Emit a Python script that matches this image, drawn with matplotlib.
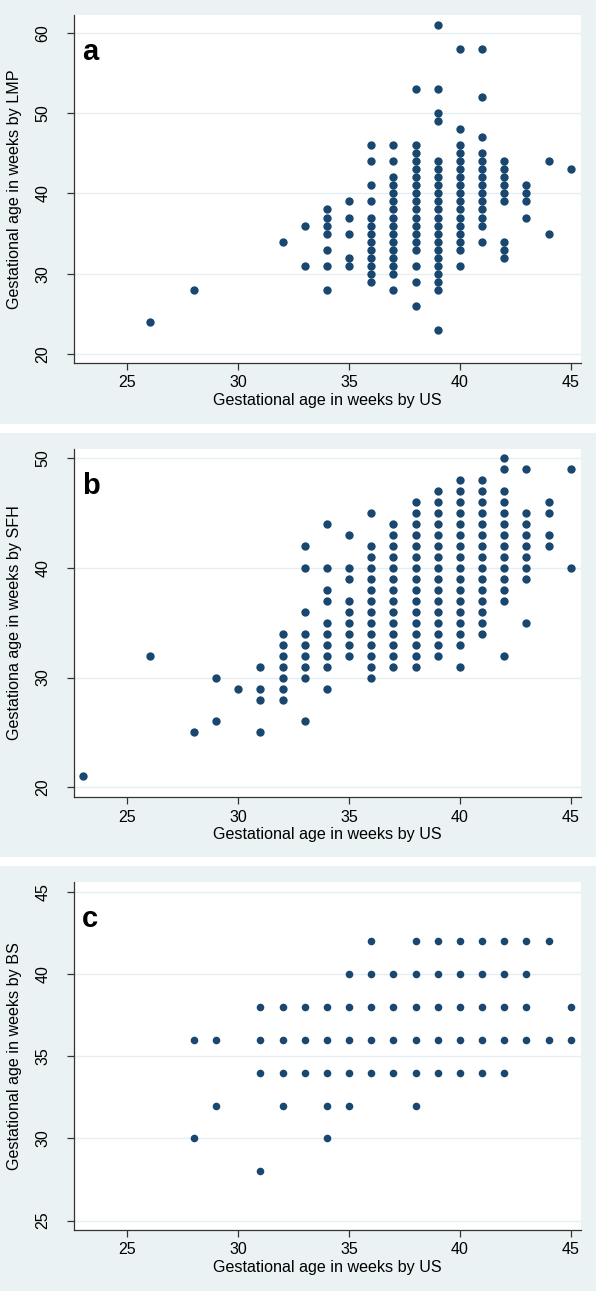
import numpy as np
import matplotlib
matplotlib.use("Agg")
import matplotlib.pyplot as plt
from matplotlib.patches import Rectangle

plt.rcParams['font.family'] = ['Liberation Sans', 'DejaVu Sans']

# panel a: gestational age by US (x) vs by LMP (y), one list per US week
us_a = [26, 28, 32, 33, 34, 35, 36, 37, 38, 39, 40, 41, 42, 43, 44, 45]
lmp = [
    [24],
    [28],
    [34],
    [36, 31],
    [38, 37, 36, 35, 33, 31, 28],
    [39, 37, 35, 32, 31],
    [46, 44, 41, 39, 37, 36, 35, 34, 33, 32, 31, 30, 29],
    [46, 44, 42, 41, 40, 39, 38, 37, 36, 35, 34, 33, 32, 31, 30, 28],
    [53, 46, 45, 44, 43, 42, 41, 40, 39, 38, 37, 36, 35, 34, 33, 31, 29, 26],
    [61, 53, 50, 49, 44, 43, 42, 41, 40, 39, 38, 37, 36, 35, 34, 33, 32, 31, 30, 29, 28, 23],
    [58, 48, 46, 45, 44, 43, 42, 41, 40, 39, 38, 37, 36, 35, 34, 33, 31],
    [58, 52, 47, 45, 44, 43, 42, 41, 40, 39, 38, 37, 36, 34],
    [44, 43, 42, 41, 40, 39, 34, 33, 32],
    [41, 40, 39, 37],
    [44, 35],
    [43],
]

# panel b: US vs SFH
us_b = [23, 26, 28, 29, 30, 31, 32, 33, 34, 35, 36, 37, 38, 39, 40, 41, 42, 43, 44, 45]
sfh = [
    [21],
    [32],
    [25],
    [30, 26],
    [29],
    [31, 29, 28, 25],
    [34, 33, 32, 31, 30, 29, 28],
    [42, 40, 36, 34, 33, 32, 31, 30, 26],
    [44, 40, 38, 37, 35, 34, 33, 32, 31, 29],
    [43, 40, 39, 37, 36, 35, 34, 33, 32],
    [45, 42, 41, 40, 39, 38, 37, 36, 35, 34, 33, 32, 31, 30],
    [44, 43, 42, 41, 40, 39, 38, 37, 36, 35, 34, 33, 32, 31],
    [46, 45, 44, 43, 42, 41, 40, 39, 38, 37, 36, 35, 34, 33, 32, 31],
    [47, 46, 45, 44, 43, 42, 41, 40, 39, 38, 37, 36, 35, 34, 33, 32],
    [48, 47, 46, 45, 44, 43, 42, 41, 40, 39, 38, 37, 36, 35, 34, 33, 31],
    [48, 47, 46, 45, 44, 43, 42, 41, 40, 39, 38, 37, 36, 35, 34],
    [50, 49, 47, 46, 45, 44, 43, 42, 41, 40, 39, 38, 37, 32],
    [49, 45, 44, 43, 42, 41, 40, 39, 35],
    [46, 45, 43, 42],
    [49, 40],
]

# panel c: US vs BS
us_c = [28, 29, 31, 32, 33, 34, 35, 36, 37, 38, 39, 40, 41, 42, 43, 44, 45]
bs = [
    [36, 30],
    [36, 32],
    [38, 36, 34, 28],
    [38, 36, 34, 32],
    [38, 36, 34],
    [38, 36, 34, 32, 30],
    [40, 38, 36, 34, 32],
    [42, 40, 38, 36, 34],
    [40, 38, 36, 34],
    [42, 40, 38, 36, 34, 32],
    [42, 40, 38, 36, 34],
    [42, 40, 38, 36, 34],
    [42, 40, 38, 36, 34],
    [42, 40, 38, 36, 34],
    [42, 40, 38, 36],
    [42, 36],
    [38, 36],
]

W, H = 596, 1291
fig = plt.figure(figsize=(W / 100, H / 100), dpi=100)
fig.patch.set_facecolor('white')

bg = '#eaf2f3'
dot = '#1a476f'
grid_c = '#e6eef0'

# grey panel backgrounds (pixel rows top..bottom)
for top, bot in [(0, 424), (433, 857), (866, 1291)]:
    fig.patches.append(Rectangle((0, 1 - bot / H), 1, (bot - top) / H,
                                 transform=fig.transFigure, facecolor=bg,
                                 edgecolor='none', zorder=-10))

panels = [
    (us_a, lmp, 15, 363, (18.9, 62.2), [20, 30, 40, 50, 60], 'Gestational age in weeks by LMP', 'a', 36),
    (us_b, sfh, 449, 797, (19.12, 50.82), [20, 30, 40, 50], 'Gestationa age in weeks by SFH', 'b', 36),
    (us_c, bs, 882, 1230, (24.43, 45.59), [25, 30, 35, 40, 45], 'Gestational age in weeks by BS', 'c', 30),
]

left, right = 74.3, 581
for us, ys, top, bot, ylim, yt, ylab, letter, msize in panels:
    ax = fig.add_axes([left / W, 1 - bot / H, (right - left) / W, (bot - top) / H])
    ax.set_facecolor('white')
    xs = []
    yy = []
    for x, col in zip(us, ys):
        xs += [x] * len(col)
        yy += col
    ax.scatter(xs, yy, s=msize, color=dot, linewidths=0, zorder=3)
    ax.set_xlim(22.6, 45.46)
    ax.set_ylim(*ylim)
    ax.set_xticks([25, 30, 35, 40, 45])
    ax.set_yticks(yt)
    ax.grid(axis='y', color=grid_c, linewidth=1.0, zorder=1)
    ax.set_axisbelow(True)
    for s in ['top', 'right']:
        ax.spines[s].set_visible(False)
    for s in ['left', 'bottom']:
        ax.spines[s].set_color('#333333')
        ax.spines[s].set_linewidth(0.9)
    ax.tick_params(direction='out', length=5, width=0.9, color='#333333',
                   labelsize=11.5)
    ax.tick_params(axis='x', pad=4)
    ax.tick_params(axis='y', pad=12)
    for lab in ax.get_yticklabels():
        lab.set_rotation(90)
        lab.set_va('center')
    ax.set_xlabel('Gestational age in weeks by US', fontsize=11.6, labelpad=1.5)
    ax.set_ylabel(ylab, fontsize=11.6, labelpad=10)
    ax.text(0.015, 0.872, letter, transform=ax.transAxes, fontsize=21,
            fontweight='bold', va='baseline', ha='left')

fig.savefig('out.png', dpi=100)
